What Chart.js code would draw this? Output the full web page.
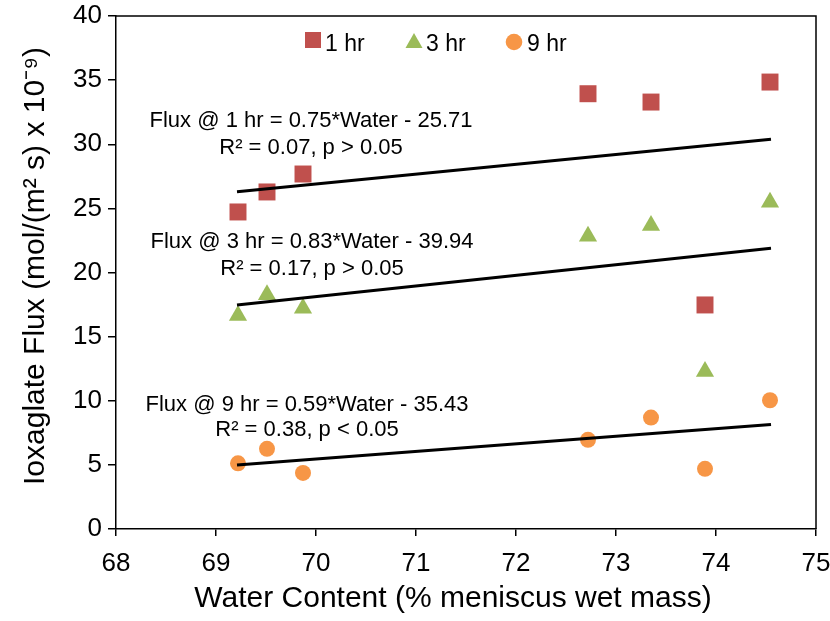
<!DOCTYPE html>
<html>
<head>
<meta charset="utf-8">
<script src="https://cdn.jsdelivr.net/npm/chart.js@4"></script>
<style>
  html, body { margin: 0; padding: 0; background: #fff; }
  #wrap { width: 830px; height: 621px; }
</style>
</head>
<body>
<div id="wrap"><canvas id="fluxChart" width="830" height="621"></canvas></div>
<script>
// water content (% meniscus wet mass) for the 7 samples
const waterContent = [69.22, 69.51, 69.87, 72.72, 73.35, 73.89, 74.54];

// ioxaglate flux (mol/(m2 s) x 1e-9)
const flux1hr = [24.72, 26.28, 27.68, 33.94, 33.29, 17.47, 34.85];
const flux3hr = [16.65, 18.26, 17.22, 22.83, 23.66, 12.28, 25.48];
const flux9hr = [5.12, 6.25, 4.37, 6.95, 8.69, 4.69, 10.04];

// trend line ends
const trendX = [69.21, 74.55];
const trend1hr = [26.30, 30.39];
const trend3hr = [17.47, 21.89];
const trend9hr = [4.99, 8.14];

const seriesNames = ['1 hr', '3 hr', '9 hr'];
const fitText1hr = ['Flux @ 1 hr = 0.75*Water - 25.71', 'R\u00b2 = 0.07, p > 0.05'];
const fitText3hr = ['Flux @ 3 hr = 0.83*Water - 39.94', 'R\u00b2 = 0.17, p > 0.05'];
const fitText9hr = ['Flux @ 9 hr = 0.59*Water - 35.43', 'R\u00b2 = 0.38, p < 0.05'];

const xTitle = 'Water Content (% meniscus wet mass)';
const yTitle = 'Ioxaglate Flux (mol/(m\u00b2 s) x 10\u207b\u2079)';

const FONT = '"Liberation Sans", Arial, Helvetica, sans-serif';
const RED = '#C0504D';
const GREEN = '#9BBB59';
const ORANGE = '#F79646';

function toPoints(xs, ys) {
    return xs.map((x, i) => ({ x: x, y: ys[i] }));
}

function trendSet(ys) {
    return {
        type: 'line',
        data: toPoints(trendX, ys),
        borderColor: '#000',
        borderWidth: 3,
        pointRadius: 0,
        fill: false,
        order: 0
    };
}

// keep the plot box exactly where the layout padding puts it
function fixBox(scale, size) {
    if (scale.isHorizontal()) {
        scale.height = size;
    } else {
        scale.width = size;
    }
    scale.paddingTop = 0;
    scale.paddingBottom = 0;
    scale.paddingLeft = 0;
    scale.paddingRight = 0;
}

// frame, fit labels, legend and axis titles
const extrasPlugin = {
    id: 'extras',
    afterDraw(chart) {
        const ctx = chart.ctx;
        const area = chart.chartArea;
        const sx = chart.scales.x;
        const sy = chart.scales.y;
        ctx.save();

        // top/right border of the plot box
        ctx.strokeStyle = '#000';
        ctx.lineWidth = 1.5;
        ctx.beginPath();
        ctx.moveTo(area.left, area.top);
        ctx.lineTo(area.right, area.top);
        ctx.lineTo(area.right, area.bottom);
        ctx.stroke();

        // regression labels
        ctx.fillStyle = '#000';
        ctx.font = '22px ' + FONT;
        ctx.textAlign = 'center';
        ctx.textBaseline = 'alphabetic';
        const fits = [
            { lines: fitText1hr, x: 69.95, y: [31.95, 29.85] },
            { lines: fitText3hr, x: 69.96, y: [22.5, 20.4] },
            { lines: fitText9hr, x: 69.91, y: [9.86, 7.84] }
        ];
        fits.forEach(f => {
            const px = sx.getPixelForValue(f.x);
            f.lines.forEach((t, i) => {
                ctx.fillText(t, px, sy.getPixelForValue(f.y[i]) + 8);
            });
        });

        // legend
        ctx.font = '23px ' + FONT;
        ctx.textAlign = 'left';
        ctx.fillStyle = RED;
        ctx.fillRect(305, 32, 16, 16);
        ctx.fillStyle = GREEN;
        ctx.beginPath();
        ctx.moveTo(414, 33);
        ctx.lineTo(422.5, 48);
        ctx.lineTo(405.5, 48);
        ctx.closePath();
        ctx.fill();
        ctx.fillStyle = ORANGE;
        ctx.beginPath();
        ctx.arc(514, 42, 8.3, 0, Math.PI * 2);
        ctx.fill();
        ctx.fillStyle = '#000';
        ctx.fillText(seriesNames[0], 325, 51);
        ctx.fillText(seriesNames[1], 426, 51);
        ctx.fillText(seriesNames[2], 527, 51);

        // axis titles
        ctx.font = '30px ' + FONT;
        ctx.textAlign = 'center';
        ctx.fillText(xTitle, 453, 607);
        ctx.translate(44, 266);
        ctx.rotate(-Math.PI / 2);
        ctx.fillText(yTitle, 0, 0);

        ctx.restore();
    }
};

new Chart(document.getElementById('fluxChart'), {
    type: 'scatter',
    data: {
        datasets: [
            trendSet(trend1hr),
            trendSet(trend3hr),
            trendSet(trend9hr),
            {
                label: seriesNames[0],
                data: toPoints(waterContent, flux1hr),
                pointStyle: 'rect',
                pointRadius: 12,
                backgroundColor: RED,
                borderColor: RED,
                borderWidth: 0,
                order: 1
            },
            {
                label: seriesNames[1],
                data: toPoints(waterContent, flux3hr),
                pointStyle: 'triangle',
                pointRadius: 10.5,
                backgroundColor: GREEN,
                borderColor: GREEN,
                borderWidth: 0,
                order: 1
            },
            {
                label: seriesNames[2],
                data: toPoints(waterContent, flux9hr),
                pointStyle: 'circle',
                pointRadius: 8,
                backgroundColor: ORANGE,
                borderColor: ORANGE,
                borderWidth: 0,
                order: 1
            }
        ]
    },
    options: {
        responsive: false,
        animation: false,
        devicePixelRatio: 1,
        layout: { padding: { top: 16, right: 14, left: 0, bottom: 0 } },
        plugins: {
            legend: { display: false },
            tooltip: { enabled: false }
        },
        scales: {
            x: {
                type: 'linear',
                min: 68,
                max: 75,
                afterFit: (scale) => fixBox(scale, 92),
                ticks: {
                    stepSize: 1,
                    color: '#000',
                    padding: 12,
                    font: { family: FONT, size: 26 }
                },
                grid: {
                    drawOnChartArea: false,
                    tickLength: 7,
                    color: '#000',
                    lineWidth: 1.5
                },
                border: { color: '#000', width: 1.5 }
            },
            y: {
                min: 0,
                max: 40,
                afterFit: (scale) => fixBox(scale, 116),
                ticks: {
                    stepSize: 5,
                    color: '#000',
                    padding: 6,
                    font: { family: FONT, size: 26 }
                },
                grid: {
                    drawOnChartArea: false,
                    tickLength: 8,
                    color: '#000',
                    lineWidth: 1.5
                },
                border: { color: '#000', width: 1.5 }
            }
        }
    },
    plugins: [extrasPlugin]
});
</script>
</body>
</html>
